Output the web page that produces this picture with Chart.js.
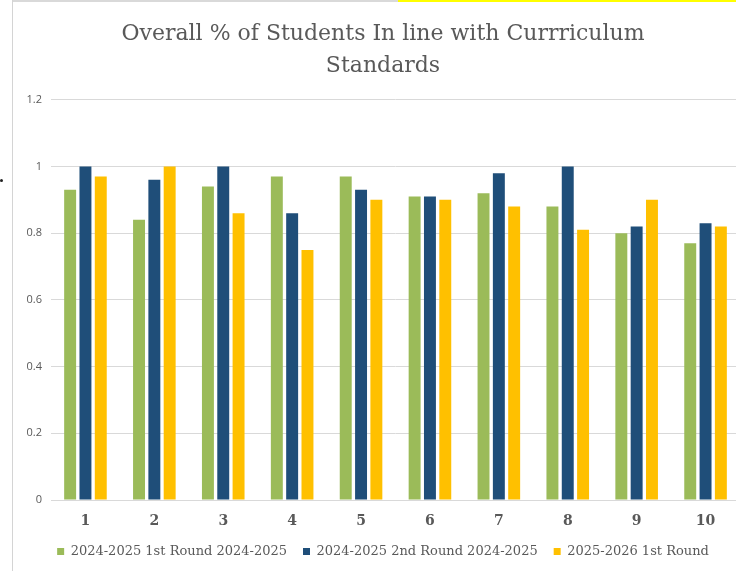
<!DOCTYPE html>
<html>
<head>
<meta charset="utf-8">
<script src="https://cdn.jsdelivr.net/npm/chart.js@4/dist/chart.umd.min.js"></script>
<style>
  html, body { margin: 0; padding: 0; width: 736px; height: 571px; overflow: hidden; background: #fff; }
  #wrap { position: absolute; left: 0; top: 0; width: 740px; height: 571px; }
  #frameTop { position: absolute; left: 12px; top: 0; width: 724px; height: 2px; background: #d9d9d9; }
  #frameLeft { position: absolute; left: 12px; top: 0; width: 1px; height: 571px; background: #d4d4d4; }
  #hl { position: absolute; left: 398px; top: 0; width: 338px; height: 2px; background: #ffff00; }
  #dot { position: absolute; left: 0px; top: 179px; width: 3px; height: 3px; background: #222; border-radius: 50%; }
</style>
</head>
<body>
<div id="wrap"><canvas id="c"></canvas></div>
<div id="frameTop"></div>
<div id="frameLeft"></div>
<div id="hl"></div>
<div id="dot"></div>
<script>
const categories = ["1", "2", "3", "4", "5", "6", "7", "8", "9", "10"];
const seriesNames = ["2024-2025 1st Round 2024-2025", "2024-2025 2nd Round 2024-2025", "2025-2026 1st Round"];
const round1_2024 = [0.93, 0.84, 0.94, 0.97, 0.97, 0.91, 0.92, 0.88, 0.80, 0.77];
const round2_2024 = [1.00, 0.96, 1.00, 0.86, 0.93, 0.91, 0.98, 1.00, 0.82, 0.83];
const round1_2025 = [0.97, 1.00, 0.86, 0.75, 0.90, 0.90, 0.88, 0.81, 0.90, 0.82];
const yTicks = [0, 0.2, 0.4, 0.6, 0.8, 1, 1.2];
const titleLines = ["Overall % of Students In line with Currriculum", "Standards"];

const colors = ["#9BBB59", "#1F4E79", "#FFC000"];
const serif = "'DejaVu Serif', 'Liberation Serif', serif";

const canvas = document.getElementById('c');
canvas.width = 740; canvas.height = 571;

new Chart(canvas, {
  type: 'bar',
  data: {
    labels: categories,
    datasets: [round1_2024, round2_2024, round1_2025].map((d, i) => ({
      label: seriesNames[i],
      data: d,
      backgroundColor: colors[i],
      borderWidth: 0,
      categoryPercentage: 0.667,
      barPercentage: 0.78
    }))
  },
  options: {
    responsive: false,
    animation: false,
    devicePixelRatio: 1,
    layout: { padding: { left: 26, right: 0, top: 0, bottom: 3 } },
    plugins: {
      title: {
        display: true,
        text: titleLines,
        color: '#595959',
        font: { family: serif, size: 22, weight: 'normal', lineHeight: 1.45 },
        padding: { top: 18, bottom: 18 }
      },
      legend: {
        position: 'bottom',
        labels: {
          color: '#595959',
          font: { family: serif, size: 13 },
          boxWidth: 7,
          boxHeight: 7,
          padding: 16
        }
      },
      tooltip: { enabled: false }
    },
    scales: {
      x: {
        afterFit: s => { s.height = 29; },
        grid: { display: false, drawTicks: false },
        border: { display: true, color: '#d9d9d9', width: 1 },
        ticks: {
          color: '#595959',
          font: { family: serif, size: 14, weight: 'bold' },
          padding: 13
        }
      },
      y: {
        min: 0,
        max: 1.2,
        afterFit: s => { s.width = 25; },
        afterBuildTicks: s => { s.ticks = yTicks.map(v => ({ value: v })); },
        grid: { color: '#d9d9d9', drawTicks: false },
        border: { display: false },
        ticks: {
          color: '#595959',
          font: { family: "'Open Sans', 'Noto Sans', sans-serif", size: 11 },
          padding: 9,
          callback: v => String(Math.round(v * 10) / 10)
        }
      }
    }
  }
});
</script>
</body>
</html>
